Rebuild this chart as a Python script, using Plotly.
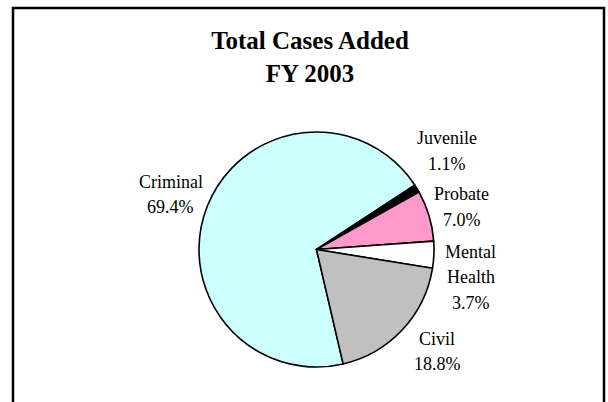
import plotly.graph_objects as go

# ---- data ----
categories = ["Criminal", "Juvenile", "Probate", "Mental Health", "Civil"]
percents = [69.4, 1.1, 7.0, 3.7, 18.8]
label_lines = [["Criminal"], ["Juvenile"], ["Probate"], ["Mental", "Health"], ["Civil"]]
title_lines = ["Total Cases Added", "FY 2003"]

# ---- styles ----
colors = ["#CCFFFF", "#000000", "#FF99CC", "#FFFFFF", "#C0C0C0"]
W, H = 608, 402
SERIF = "Liberation Serif, Times New Roman, serif"
# label anchor: (x center px, first line middle px)
label_anchor = [(170.5, 182.0), (447.0, 138.0), (462.0, 194.5), (470.5, 251.5), (437.0, 338.5)]
line_gap = 25.5
cx, cy, r = 316.5, 249.5, 117.5


def px_x(x):
    return x / W


def px_y(y):
    return 1 - y / H


fig = go.Figure(
    go.Pie(
        labels=categories,
        values=percents,
        sort=False,
        direction="clockwise",
        rotation=166.9,
        marker=dict(colors=colors, line=dict(color="black", width=1.6)),
        textinfo="none",
        hoverinfo="label+percent",
        showlegend=False,
        domain=dict(x=[px_x(cx - r), px_x(cx + r)], y=[px_y(cy + r), px_y(cy - r)]),
    )
)

annotations = []
for lines, pct, (ax, ay) in zip(label_lines, percents, label_anchor):
    texts = lines + [f"{pct:.1f}%"]
    for i, t in enumerate(texts):
        annotations.append(
            dict(
                text=t,
                x=px_x(ax),
                y=px_y(ay + i * line_gap),
                xref="paper",
                yref="paper",
                xanchor="center",
                yanchor="middle",
                showarrow=False,
                font=dict(family=SERIF, size=18, color="black"),
            )
        )

fig.update_layout(
    width=W,
    height=H,
    margin=dict(l=0, r=0, t=0, b=0),
    paper_bgcolor="white",
    plot_bgcolor="white",
    title=dict(
        text="<br>".join(f"<b>{t}</b>" for t in title_lines),
        x=px_x(310),
        xanchor="center",
        y=px_y(49),
        yanchor="middle",
        yref="container",
        font=dict(family=SERIF, size=25, color="black"),
    ),
    annotations=annotations,
    shapes=[
        dict(
            type="rect",
            xref="paper",
            yref="paper",
            x0=px_x(13),
            x1=px_x(604),
            y0=-0.05,
            y1=px_y(8),
            line=dict(color="black", width=2.5),
            fillcolor="rgba(0,0,0,0)",
        )
    ],
)

fig.write_html("out.html")
